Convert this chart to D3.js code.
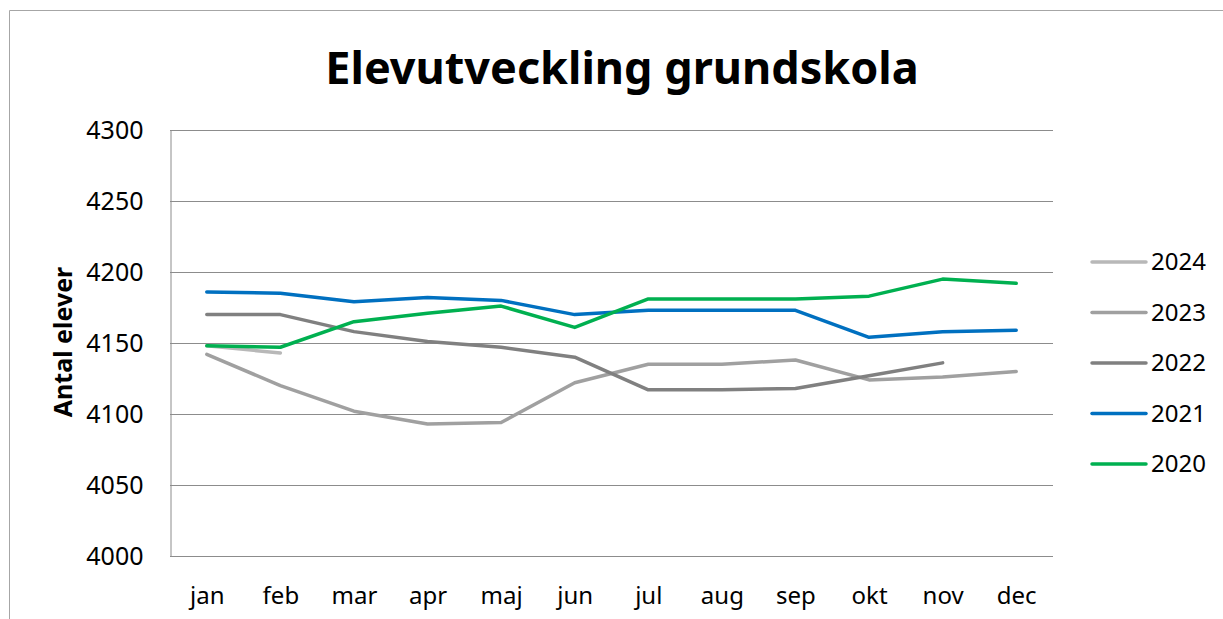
<!DOCTYPE html>
<html>
<head>
<meta charset="utf-8">
<script src="https://cdn.jsdelivr.net/npm/d3@7"></script>
<style>
body { margin: 0; background: #fff; }
svg { display: block; font-family: "Noto Sans", "Open Sans", sans-serif; }
</style>
</head>
<body>
<svg id="chart" width="1223" height="619"></svg>
<script>
var months = ["jan", "feb", "mar", "apr", "maj", "jun", "jul", "aug", "sep", "okt", "nov", "dec"];
var yTicks = [4000, 4050, 4100, 4150, 4200, 4250, 4300];
var years = ["2024", "2023", "2022", "2021", "2020"];
var v2024 = [4148, 4143];
var v2023 = [4142, 4120, 4102, 4093, 4094, 4122, 4135, 4135, 4138, 4124, 4126, 4130];
var v2022 = [4170, 4170, 4158, 4151, 4147, 4140, 4117, 4117, 4118, 4127, 4136];
var v2021 = [4186, 4185, 4179, 4182, 4180, 4170, 4173, 4173, 4173, 4154, 4158, 4159];
var v2020 = [4148, 4147, 4165, 4171, 4176, 4161, 4181, 4181, 4181, 4183, 4195, 4192];
var colors = ["#b8b8b8", "#a0a0a0", "#808080", "#0070c0", "#00b050"];

var series = [v2024, v2023, v2022, v2021, v2020].map(function(vals, i) {
	return {
		name: years[i],
		color: colors[i],
		values: vals.map(function(v, j) { return { m: months[j], v: v }; })
	};
});

var svg = d3.select("#chart"),
	plotLeft = 170, plotRight = 1053, plotTop = 130, plotBottom = 556,
	gridcolor = "#8c8c8c";

// outer chart frame
svg.append("path")
	.attr("d", "M9.5,619 V10.5 H1223")
	.attr("fill", "none")
	.attr("stroke", "#a6a6a6")
	.attr("stroke-width", 1);

var x = d3.scalePoint()
	.domain(months)
	.range([plotLeft, plotRight])
	.padding(0.5);
var y = d3.scaleLinear()
	.domain([4000, 4300])
	.range([plotBottom, plotTop]);

svg.append("text")
	.attr("x", 622)
	.attr("y", 84)
	.attr("text-anchor", "middle")
	.attr("font-size", 45)
	.attr("font-weight", "bold")
	.text("Elevutveckling grundskola");

// gridlines
svg.append("g")
	.selectAll("line")
	.data(yTicks)
	.enter().append("line")
	.attr("x1", plotLeft)
	.attr("x2", plotRight)
	.attr("y1", function(d) { return Math.round(y(d)) + 0.5; })
	.attr("y2", function(d) { return Math.round(y(d)) + 0.5; })
	.attr("stroke", gridcolor)
	.attr("stroke-width", 1);

var yAxis = svg.append("g")
	.attr("transform", "translate(" + (plotLeft + 0.5) + ",0.5)")
	.call(d3.axisLeft(y).tickValues(yTicks).tickSize(0).tickPadding(27).tickFormat(d3.format("d")));
yAxis.select(".domain").attr("stroke", gridcolor);
yAxis.selectAll("text")
	.attr("font-size", 25)
	.attr("font-family", "'Noto Sans', sans-serif")
	.attr("fill", "#000");

var xAxis = svg.append("g")
	.attr("transform", "translate(0," + (plotBottom + 0.5) + ")")
	.call(d3.axisBottom(x).tickSize(0).tickPadding(30));
xAxis.select(".domain").attr("stroke", gridcolor).attr("d", "M" + plotLeft + ",0H" + plotRight);
xAxis.selectAll("text")
	.attr("font-size", 24)
	.attr("font-family", "'Noto Sans', sans-serif")
	.attr("fill", "#000");

svg.append("text")
	.attr("transform", "translate(72,342) rotate(-90)")
	.attr("text-anchor", "middle")
	.attr("font-size", 25)
	.attr("font-weight", "bold")
	.text("Antal elever");

var line = d3.line()
	.x(function(d) { return x(d.m); })
	.y(function(d) { return y(d.v); });

svg.append("g")
	.selectAll("path")
	.data(series)
	.enter().append("path")
	.attr("fill", "none")
	.attr("stroke", function(d) { return d.color; })
	.attr("stroke-width", 3.5)
	.attr("stroke-linejoin", "round")
	.attr("stroke-linecap", "round")
	.attr("d", function(d) { return line(d.values); });

// legend
var legend = svg.append("g")
	.selectAll("g")
	.data(series)
	.enter().append("g")
	.attr("transform", function(d, i) { return "translate(1092," + (262 + i * 50.5) + ")"; });
legend.append("line")
	.attr("x1", 0)
	.attr("x2", 54)
	.attr("stroke", function(d) { return d.color; })
	.attr("stroke-width", 3.5)
	.attr("stroke-linecap", "round");
legend.append("text")
	.attr("x", 59)
	.attr("dy", "0.35em")
	.attr("font-size", 24)
	.text(function(d) { return d.name; });
</script>
</body>
</html>
